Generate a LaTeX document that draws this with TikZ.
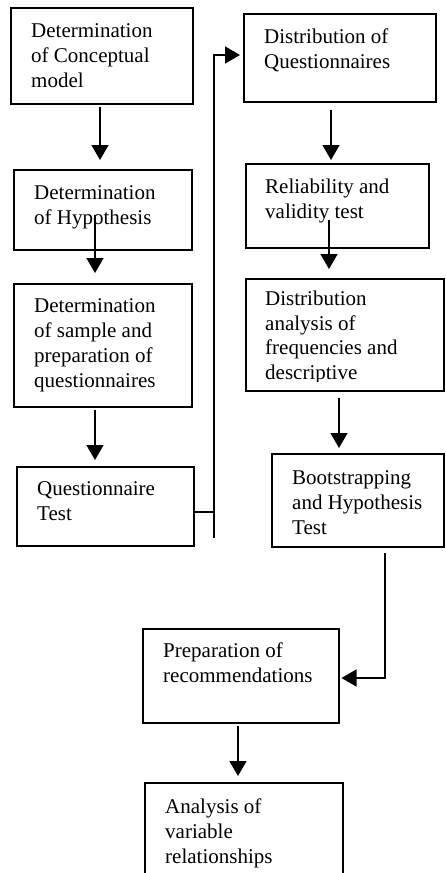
\documentclass[tikz,border=0pt]{standalone}
\usepackage{fontspec}
\setmainfont{Liberation Serif}
\usetikzlibrary{arrows.meta}
\newcommand{\tfont}{\fontsize{21}{24.8}\selectfont}
\begin{document}
\begin{tikzpicture}[x=1pt,y=-1pt,
  box/.style={draw, line width=1.5pt, anchor=north west, inner sep=0pt, rectangle},
  txt/.style={anchor=north west, inner sep=0pt, align=left, font=\tfont},
  arr/.style={draw, line width=1.5pt, -{Triangle[width=17pt,length=15pt]}},
  ln/.style={draw, line width=1.5pt}]
\useasboundingbox (0,0) rectangle (445,873);
% boxes
\node[box, minimum width=182pt, minimum height=96pt] (b1) at (10,7) {};
\node[box, minimum width=178pt, minimum height=80pt] (b2) at (13,169) {};
\node[box, minimum width=178pt, minimum height=123pt] (b3) at (13,283) {};
\node[box, minimum width=177pt, minimum height=79pt] (b4) at (16,466) {};
\node[box, minimum width=192pt, minimum height=88pt] (b5) at (243,13) {};
\node[box, minimum width=183pt, minimum height=84pt] (b6) at (245,163) {};
\node[box, minimum width=198pt, minimum height=112pt] (b7) at (245,278) {};
\node[box, minimum width=172pt, minimum height=93pt] (b8) at (271,453) {};
\node[box, minimum width=196pt, minimum height=94pt] (b9) at (142,628) {};
\node[box, minimum width=198pt, minimum height=118pt] (b10) at (144,782) {};
% texts
\node[txt] (t1) at (31,23.5) {Determination\\of Conceptual\\model};
\node[txt] (t2) at (34,185.5) {Determination\\of Hypothesis};
\node[txt] (t3) at (34,298.5) {Determination\\of sample and\\preparation of\\questionnaires};
\node[txt] (t4) at (37,481.5) {Questionnaire\\Test};
\node[txt] (t5) at (264,28.5) {Distribution of\\Questionnaires};
\node[txt] (t6) at (265,178.5) {Reliability and\\validity test};
\begin{scope}
\clip (245,278) rectangle (443,381);
\node[txt] (t7) at (265,290.5) {Distribution\\analysis of\\frequencies and\\descriptive};
\end{scope}
\node[txt] (t8) at (292,470.5) {Bootstrapping\\and Hypothesis\\Test};
\node[txt] (t9) at (163,642.5) {Preparation of\\recommendations};
\node[txt] (t10) at (165,798.5) {Analysis of\\variable\\relationships};
% arrows
\draw[arr, shorten <=2pt, shorten >=9pt] (b1.south -| 100,0) -- (b2.north -| 100,0);
\draw[arr, shorten <=-36pt, shorten >=10pt] (b2.south -| 95,0) -- (b3.north -| 95,0);
\draw[arr, shorten <=2pt, shorten >=6pt] (b3.south -| 95,0) -- (b4.north -| 95,0);
\draw[arr, shorten <=7pt, shorten >=3pt] (b5.south -| 331,0) -- (b6.north -| 331,0);
\draw[arr, shorten <=-29pt, shorten >=9pt] (b6.south -| 329,0) -- (b7.north -| 329,0);
\draw[arr, shorten <=6pt, shorten >=5pt] (b7.south -| 339,0) -- (b8.north -| 339,0);
\draw[arr, shorten <=2pt, shorten >=6pt] (b9.south -| 238,0) -- (b10.north -| 238,0);
\draw[arr, shorten <=5pt, shorten >=2pt] (b8.south -| 385,0) |- (b9.east |- 0,678);
% loop from questionnaire test to distribution
\coordinate (vb) at (214,538);
\coordinate (vt) at (214,55);
\draw[ln] (b4.east |- 0,512) -- (vb |- 0,512);
\draw[arr, shorten >=3pt] (vb) -- (vt) -- (b5.west |- vt);
\end{tikzpicture}
\end{document}
